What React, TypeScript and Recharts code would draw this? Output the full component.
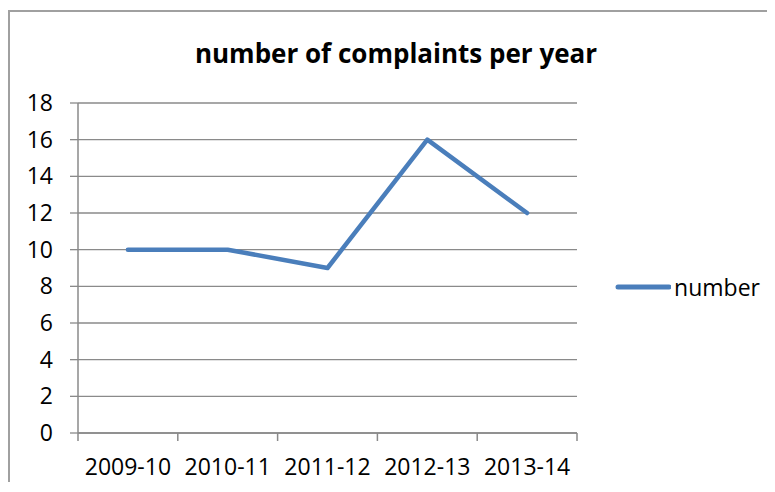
import { LineChart, Line, XAxis, YAxis, CartesianGrid, Legend } from 'recharts';

const years = ['2009-10', '2010-11', '2011-12', '2012-13', '2013-14'];
const complaints = [10, 10, 9, 16, 12];
const yTicks = [0, 2, 4, 6, 8, 10, 12, 14, 16, 18];

const data = years.map((year, i) => ({ year, number: complaints[i] }));

const FONT = '"Open Sans", sans-serif';
const GRAY = '#8a8a8a';
const BLUE = '#4a7ebb';
const CHART_W = 765;
const CHART_H = 470;
const PLOT_W = 499;
const BAND = PLOT_W / years.length;

// tick marks sit between the categories, labels in the middle
function YearTick(props: any) {
  const { x, y, payload, index, visibleTicksCount } = props;
  const half = BAND / 2;
  return (
    <g>
      <line x1={x - half} x2={x - half} y1={y} y2={y + 8} stroke={GRAY} strokeWidth={1.5} />
      {index === visibleTicksCount - 1 && (
        <line x1={x + half} x2={x + half} y1={y} y2={y + 8} stroke={GRAY} strokeWidth={1.5} />
      )}
      <text x={x} y={y + 42} textAnchor="middle" fill="#000" fontSize={23} fontFamily={FONT}>
        {payload.value}
      </text>
    </g>
  );
}

function LegendBox() {
  return (
    <div style={{ display: 'flex', alignItems: 'center', paddingLeft: 38, fontFamily: FONT, fontSize: 23, color: '#000' }}>
      <svg width={57} height={8}>
        <line x1={3} x2={54} y1={4} y2={4} stroke={BLUE} strokeWidth={5} strokeLinecap="round" />
      </svg>
      <span style={{ marginLeft: 3 }}>number</span>
    </div>
  );
}

export default function App() {
  return (
    <div style={{ paddingTop: 2, width: 759, overflow: 'hidden' }}>
      <div
        style={{
          position: 'relative',
          width: 800,
          height: CHART_H,
          borderTop: '2px solid #a0a0a0',
          borderLeft: '2px solid #a0a0a0',
          background: '#fff',
        }}
      >
        <div
          style={{
            position: 'absolute',
            left: 0,
            top: 28,
            width: 772,
            textAlign: 'center',
            fontFamily: FONT,
            fontWeight: 700,
            fontSize: 26,
            lineHeight: '26px',
            color: '#000',
          }}
        >
          number of complaints per year
        </div>
        <LineChart width={CHART_W} height={CHART_H} data={data} margin={{ top: 91, right: 15, left: 8, bottom: 9 }}>
          <CartesianGrid horizontal vertical={false} stroke={GRAY} strokeWidth={1.3} />
          <XAxis
            dataKey="year"
            scale="band"
            height={40}
            interval={0}
            axisLine={{ stroke: GRAY, strokeWidth: 1.5 }}
            tickLine={false}
            tickSize={0}
            tickMargin={0}
            tick={<YearTick />}
          />
          <YAxis
            width={60}
            domain={[0, 18]}
            ticks={yTicks}
            interval={0}
            axisLine={{ stroke: GRAY, strokeWidth: 1.5 }}
            tickLine={{ stroke: GRAY, strokeWidth: 1.3 }}
            tickSize={8}
            tickMargin={17}
            tick={{ fill: '#000', fontSize: 23, fontFamily: FONT }}
          />
          <Legend
            layout="vertical"
            align="right"
            verticalAlign="middle"
            content={<LegendBox />}
            wrapperStyle={{ width: 183, top: 259, right: 15 }}
          />
          <Line
            type="linear"
            dataKey="number"
            stroke={BLUE}
            strokeWidth={4.5}
            strokeLinecap="round"
            strokeLinejoin="round"
            dot={false}
            activeDot={false}
            isAnimationActive={false}
          />
        </LineChart>
      </div>
    </div>
  );
}
